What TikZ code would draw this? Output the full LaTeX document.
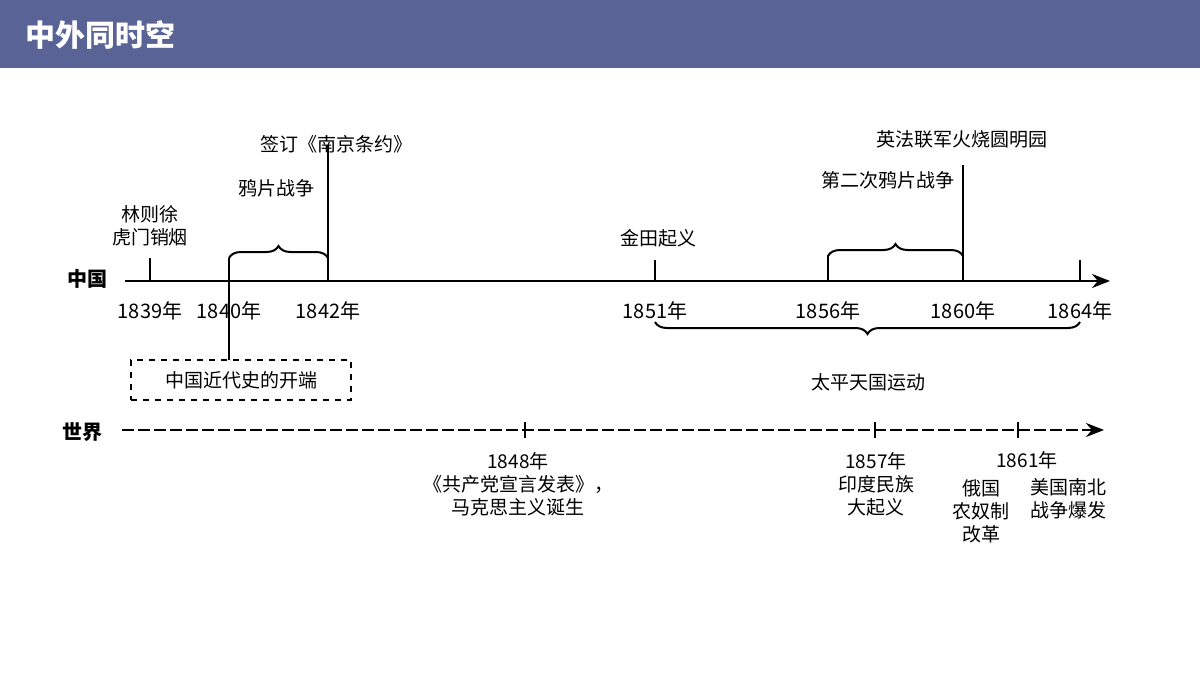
\documentclass[tikz,border=0pt]{standalone}
\usepackage{fontspec}
\setmainfont{Noto Sans CJK SC}
\usetikzlibrary{decorations.pathreplacing,arrows.meta}
\definecolor{hdr}{HTML}{5A6396}
\tikzset{
 lab/.style={font=\fontsize{9.5}{11.5}\selectfont,align=center,inner sep=0pt},
 tk/.style={line width=1pt},
 br/.style={line width=1pt,decorate,decoration={brace,amplitude=6pt}},
}
\begin{document}
\begin{tikzpicture}[x=0.5pt,y=-0.5pt]
\useasboundingbox (0,0) rectangle (1200,675);
\fill[hdr] (0,0) rectangle (1200,68);
\node[anchor=west,text=white,font=\fontsize{15}{18}\selectfont\bfseries] (title) at (18,35) {中外同时空};
% China axis
\node[font=\fontsize{10}{12}\selectfont\bfseries] (cn) at (88,279) {中国};
\coordinate (cs) at (125,281); \coordinate (ce) at (1110,281);
\draw[line width=1.2pt,-{Stealth[length=9pt,width=7pt]}] (cs) -- (ce);
\coordinate (t1) at (150,281); \coordinate (t1u) at (150,258);
\coordinate (t2) at (229,281); \coordinate (t2u) at (229,258); \coordinate (t2d) at (229,360);
\coordinate (t3) at (328,281); \coordinate (t3u) at (328,145);
\coordinate (t4) at (655,281); \coordinate (t4u) at (655,260);
\coordinate (t5) at (828,281); \coordinate (t5u) at (828,255);
\coordinate (t6) at (963,281); \coordinate (t6u) at (963,165);
\coordinate (t7) at (1080,281); \coordinate (t7u) at (1080,260);
\foreach \a/\b in {t1/t1u,t2u/t2d,t3/t3u,t4/t4u,t5/t5u,t6/t6u,t7/t7u} \draw[tk] (\a) -- (\b);
\foreach \p/\y in {150/1839,229/1840,328/1842,655/1851,828/1856,963/1860,1080/1864}
  \node[lab,font=\fontsize{10}{12}\selectfont] (y\y) at (\p,311) {\y 年};
\draw[br] (229,258) -- (328,258) coordinate[pos=.5] (b1);
\draw[br] (828,256) -- (963,256) coordinate[pos=.5] (b2);
\draw[br] (1080,322) -- (655,322) coordinate[pos=.5] (b3);
\node[lab] (n1) at (150,226) {林则徐\\虎门销烟};
\node[lab] (n2) at (276,188) {鸦片战争};
\node[lab] (n3) at (336,144) {签订《南京条约》};
\node[lab] (n4) at (658,238) {金田起义};
\node[lab] (n5) at (888,180) {第二次鸦片战争};
\node[lab] (n6) at (962,139) {英法联军火烧圆明园};
\node[lab] (n7) at (868,382) {太平天国运动};
\node[lab,draw,dashed,line width=1pt,minimum width=110pt,minimum height=20pt] (box) at (241,380) {中国近代史的开端};
% World axis
\node[font=\fontsize{10}{12}\selectfont\bfseries] (wd) at (82,432) {世界};
\coordinate (ws) at (122,430); \coordinate (we) at (1104,430);
\draw[line width=1.2pt,dashed,dash pattern=on 6pt off 2pt,-{Stealth[length=9pt,width=7pt]}] (ws) -- (we);
\foreach \p in {525,875,1018} \draw[line width=0.8pt] (\p,422) -- (\p,438);
\node[lab] (w1) at (518,484) {1848年\\《共产党宣言发表》，\\马克思主义诞生};
\node[lab] (w2) at (876,484) {1857年\\印度民族\\大起义};
\node[lab] (w3y) at (1027,460) {1861年};
\node[lab] (w4) at (981,511) {俄国\\农奴制\\改革};
\node[lab] (w5) at (1068,499) {美国南北\\战争爆发};
\end{tikzpicture}
\end{document}
